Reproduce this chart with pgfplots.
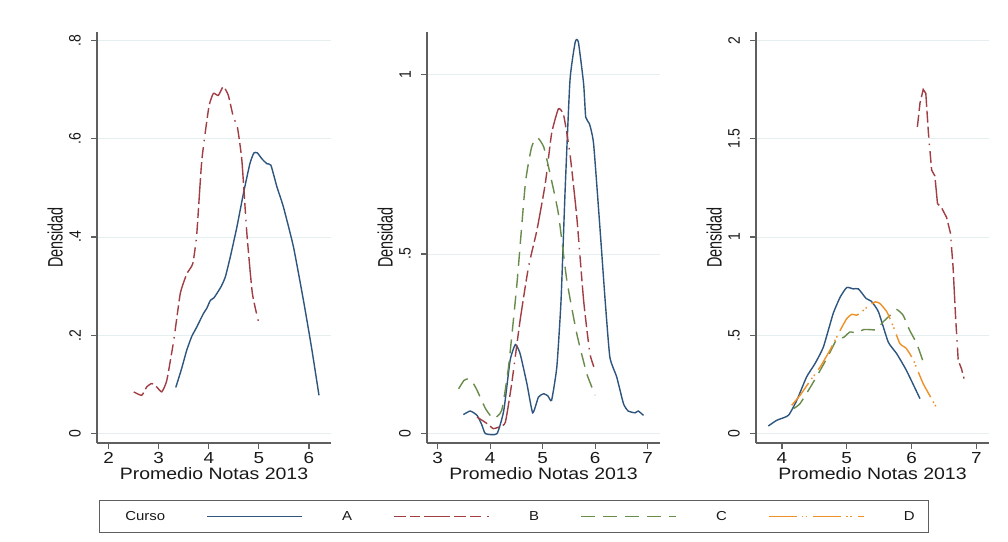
\documentclass[border=0pt]{standalone}
\usepackage{graphicx}
\usepackage{pgfplots}
\pgfplotsset{compat=1.18}
\usepackage{fontspec}
\setmainfont{Liberation Sans}
\definecolor{cA}{RGB}{45,85,125}
\definecolor{cB}{RGB}{160,62,68}
\definecolor{cC}{RGB}{105,140,75}
\definecolor{cD}{RGB}{238,145,40}
\definecolor{axc}{RGB}{95,95,95}
\definecolor{gridc}{RGB}{230,239,240}
\definecolor{txt}{RGB}{25,25,25}
\newcommand\hs[1]{\scalebox{1.18}[1]{#1}}
\newcommand\vs[1]{\scalebox{1}[1.18]{#1}}
\newcommand\vsl[1]{\scalebox{1}[1.45]{#1}}
\pgfplotsset{
  sA/.style={draw=cA, line width=1.4pt, solid},
  sB/.style={draw=cB, line width=1.4pt, dash pattern=on 12pt off 4pt on 10pt off 4pt on 26pt off 4pt on 12pt off 4pt on 11pt off 6pt on 1.5pt off 6pt},
  sC/.style={draw=cC, line width=1.4pt, dash pattern=on 14pt off 8pt},
  sD/.style={draw=cD, line width=1.4pt, dash pattern=on 28pt off 5pt on 1.5pt off 2.5pt on 1.5pt off 6pt},
  panel/.style={
    scale only axis, width=233pt, height=411pt, anchor=south west,
    axis lines=left, axis line style={-, draw=axc, line width=1.2pt},
    tick align=outside, major tick length=6pt,
    every tick/.style={draw=axc, line width=1.2pt},
    ymajorgrids, grid style={draw=gridc, line width=0.9pt},
    xticklabel style={font=\fontsize{16}{16}\selectfont, text=txt, inner sep=0pt},
    xticklabel shift=3pt,
    yticklabel style={font=\fontsize{14}{14}\selectfont, text=txt, inner sep=0pt, rotate=90, anchor=south},
    yticklabel shift=10pt,
    xlabel={\hs{Promedio Notas 2013}},
    ylabel={\vsl{Densidad}},
    xlabel style={font=\fontsize{16.5}{16.5}\selectfont, text=txt, inner sep=0pt, at={(axis description cs:0.5,0)}, anchor=north, yshift=-24pt},
    ylabel style={font=\fontsize{14.4}{14.4}\selectfont, text=txt, inner sep=0pt, at={([xshift=-34pt]axis description cs:0,0.5)}, anchor=south},
    legend image code/.code={\path[draw=none,fill=none] (0pt,0pt) -- (177pt,0pt); \draw[##1] (42pt,0pt) -- (137pt,0pt);},
  },
}
\begin{document}
\begin{tikzpicture}
\fill[white] (0,0) rectangle (1008pt,541pt);
\useasboundingbox (0,0) rectangle (1008pt,541pt);
% Panel 1
\begin{axis}[panel, at={(97pt,98pt)}, width=234pt,
  xmin=1.767, xmax=6.44, ymin=-0.019, ymax=0.817,
  xtick={2,3,4,5,6}, xticklabels={\hs{2},\hs{3},\hs{4},\hs{5},\hs{6}},
  ytick={0,0.2,0.4,0.6,0.8}, yticklabels={\vs{0},\vs{.2},\vs{.4},\vs{.6},\vs{.8}}]
\addplot[sA, smooth, tension=0.3] table {
3.34 0.094
3.45 0.13
3.56 0.17
3.66 0.198
3.76 0.217
3.89 0.244
3.96 0.255
4.03 0.271
4.10 0.276
4.16 0.285
4.25 0.30
4.33 0.319
4.43 0.36
4.56 0.42
4.69 0.488
4.82 0.549
4.90 0.571
4.97 0.571
5.06 0.559
5.16 0.549
5.24 0.546
5.36 0.502
5.49 0.461
5.69 0.38
5.89 0.271
6.05 0.176
6.20 0.078
};
\addplot[sB, smooth, tension=0.3] table {
2.50 0.085
2.66 0.078
2.76 0.095
2.86 0.102
2.96 0.095
3.06 0.085
3.16 0.108
3.30 0.19
3.43 0.285
3.56 0.325
3.68 0.346
3.76 0.407
3.86 0.556
4.00 0.664
4.09 0.692
4.19 0.688
4.29 0.706
4.39 0.688
4.49 0.644
4.57 0.624
4.66 0.556
4.76 0.407
4.87 0.285
5.01 0.22
};
\end{axis}
% Panel 2
\begin{axis}[panel, at={(427pt,98pt)},
  xmin=2.797, xmax=7.235, ymin=-0.026, ymax=1.118,
  xtick={3,4,5,6,7}, xticklabels={\hs{3},\hs{4},\hs{5},\hs{6},\hs{7}},
  ytick={0,0.5,1}, yticklabels={\vs{0},\vs{.5},\vs{1}}]
\addplot[sA, smooth, tension=0.3] table {
3.49 0.053
3.62 0.063
3.75 0.051
3.84 0.025
3.91 0.0
4.13 0.0
4.26 0.065
4.38 0.204
4.48 0.248
4.57 0.223
4.70 0.139
4.81 0.058
4.92 0.102
5.02 0.111
5.10 0.105
5.17 0.093
5.27 0.186
5.35 0.371
5.43 0.686
5.52 0.983
5.62 1.090
5.68 1.090
5.78 0.974
5.82 0.881
5.89 0.863
5.97 0.807
6.09 0.575
6.19 0.371
6.28 0.213
6.41 0.158
6.54 0.083
6.63 0.063
6.76 0.058
6.82 0.063
6.92 0.051
};
\addplot[sB, smooth, tension=0.3] table {
3.75 0.046
3.87 0.035
3.97 0.025
4.06 0.014
4.19 0.020
4.29 0.032
4.41 0.139
4.57 0.315
4.73 0.464
4.89 0.566
5.05 0.696
5.17 0.835
5.30 0.904
5.40 0.886
5.52 0.779
5.65 0.603
5.78 0.371
5.90 0.223
6.00 0.176
};
\addplot[sC, smooth, tension=0.3] table {
3.40 0.125
3.50 0.148
3.59 0.153
3.67 0.142
3.75 0.121
3.91 0.070
4.06 0.042
4.22 0.065
4.35 0.186
4.51 0.417
4.67 0.696
4.79 0.798
4.90 0.824
5.02 0.798
5.14 0.724
5.30 0.612
5.46 0.427
5.65 0.278
5.84 0.167
6.00 0.107
};
\end{axis}
% Panel 3
\begin{axis}[panel, at={(756pt,98pt)},
  xmin=3.6, xmax=7.195, ymin=-0.0475, ymax=2.042,
  xtick={4,5,6,7}, xticklabels={\hs{4},\hs{5},\hs{6},\hs{7}},
  ytick={0,0.5,1,1.5,2}, yticklabels={\vs{0},\vs{.5},\vs{1},\vs{1.5},\vs{2}},
  legend columns=-1,
  legend style={at={(axis description cs:-1.0386,-0.1788)}, anchor=center,
    draw=axc, line width=1.2pt, fill=white, inner xsep=14pt, inner ysep=11pt,
    column sep=0pt, font=\fontsize{13}{13}\selectfont, text=txt,
    nodes={inner sep=0pt}},
  legend cell align=left]
\addlegendimage{empty legend}
\addlegendentry{\hspace*{12pt}\scalebox{1.15}[1]{Curso}}
\addplot[sA, smooth, tension=0.3] table {
3.79 0.039
3.92 0.068
4.10 0.093
4.23 0.170
4.38 0.288
4.51 0.356
4.64 0.441
4.79 0.610
4.90 0.695
5.00 0.743
5.10 0.736
5.18 0.736
5.30 0.687
5.38 0.673
5.49 0.619
5.64 0.466
5.77 0.407
5.92 0.322
6.13 0.178
};
\addlegendentry{\scalebox{1.15}[1]{A}}
\addplot[sB] table {
6.09 1.56
6.13 1.68
6.18 1.75
6.22 1.73
6.26 1.53
6.31 1.34
6.36 1.31
6.40 1.17
6.46 1.15
6.54 1.10
6.60 1.02
6.64 0.85
6.68 0.59
6.72 0.373
6.77 0.33
6.81 0.28
};
\addlegendentry{\scalebox{1.15}[1]{B}}
\addplot[sC, smooth, tension=0.3] table {
4.18 0.127
4.28 0.153
4.44 0.237
4.59 0.322
4.72 0.399
4.85 0.483
4.95 0.489
5.05 0.517
5.15 0.512
5.26 0.529
5.36 0.529
5.46 0.529
5.56 0.568
5.67 0.602
5.77 0.631
5.87 0.602
5.97 0.526
6.08 0.458
6.18 0.365
};
\addlegendentry{\scalebox{1.15}[1]{C}}
\addplot[sD, smooth, tension=0.3] table {
4.15 0.144
4.28 0.195
4.44 0.271
4.59 0.339
4.74 0.424
4.90 0.526
5.00 0.585
5.08 0.607
5.15 0.602
5.23 0.619
5.33 0.648
5.44 0.670
5.51 0.662
5.62 0.619
5.72 0.543
5.82 0.458
5.92 0.433
6.03 0.373
6.18 0.254
6.38 0.136
};
\addlegendentry{\scalebox{1.15}[1]{D}}
\end{axis}
\end{tikzpicture}
\end{document}
